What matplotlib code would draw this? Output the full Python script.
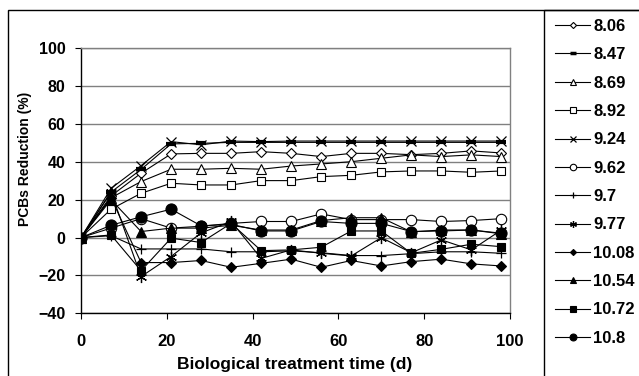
import matplotlib
matplotlib.use("Agg")
import matplotlib.pyplot as plt
from matplotlib.patches import Rectangle
from matplotlib.lines import Line2D

plt.rcParams['font.family'] = ['Liberation Sans', 'DejaVu Sans']
plt.rcParams['font.weight'] = 'bold'

days = [0, 7, 14, 21, 28, 35, 42, 49, 56, 63, 70, 77, 84, 91, 98]
labels = ['8.06', '8.47', '8.69', '8.92', '9.24', '9.62', '9.7', '9.77',
          '10.08', '10.54', '10.72', '10.8']

s806 = [0, 22, 34, 44.2, 44.5, 44.5, 45.4, 44.5, 42.8, 44.5, 44.5, 43.8, 44.5, 45.8, 44.7]
s847 = [0, 24, 36, 49.5, 49.8, 50.3, 50.3, 50.3, 50.3, 50.3, 50.3, 50.3, 50.3, 50.3, 50.3]
s869 = [0, 21, 29.6, 36.1, 36.1, 36.6, 36.1, 37.8, 38.9, 40.1, 41.9, 43.7, 42.8, 43.7, 42.8]
s892 = [0, 15, 23.4, 28.7, 27.8, 27.8, 30.1, 30.1, 32.2, 32.9, 34.7, 35.2, 35.2, 34.5, 35.2]
s924 = [0, 26, 38, 50.7, 49, 51, 50.7, 51, 51, 51, 51, 51, 51, 51, 51]
s962 = [0, 5, 10, 5, 6, 7.5, 8.5, 8.5, 12.5, 9.5, 9.5, 9.5, 8.5, 9, 10]
s970 = [0, 1, -6, -6, -6, -7.5, -7.5, -7, -8, -9.5, -9.5, -8.5, -7.5, -7.5, -8.3]
s977 = [0, 24, -20.6, -10, 2.5, 8.5, -11, -6.5, -8.3, -9.7, 0, -8, -1.2, -6.5, 4]
s1008 = [0, 21, -13.2, -13.2, -12.1, -15.7, -13.6, -11.4, -15.7, -12.1, -15, -12.7, -11.4, -13.9, -15]
s1054 = [0, 20, 3.2, 5, 5, 6.5, 4, 4, 9, 10.5, 10.5, 3, 4, 4, 2]
s1072 = [0, 1.4, -17.5, -0.3, -2.6, 7.5, -6.9, -6.5, -5.1, 3.5, 3.5, -8.3, -6.2, -3.5, -4.8]
s1080 = [0, 6.5, 11, 15, 6.2, 7, 3.5, 3.5, 8.5, 7.5, 7.5, 3.2, 3.5, 4, 2.3]

series = [s806, s847, s869, s892, s924, s962, s970, s977, s1008, s1054, s1072, s1080]

styles = [
    dict(marker='D', ms=5, mfc='white', mew=0.8),
    dict(marker='_', ms=7, mfc='black', mew=3),
    dict(marker='^', ms=6.5, mfc='white', mew=0.8),
    dict(marker='s', ms=6, mfc='white', mew=0.8),
    dict(marker='x', ms=6.5, mfc='none', mew=0.9),
    dict(marker='o', ms=7.5, mfc='white', mew=0.8),
    dict(marker='+', ms=7, mfc='none', mew=0.9),
    dict(marker=(6, 2, 0), ms=8, mfc='none', mew=0.9),
    dict(marker='D', ms=5, mfc='black', mew=0.8),
    dict(marker='^', ms=6.5, mfc='black', mew=0.8),
    dict(marker='s', ms=6, mfc='black', mew=0.8),
    dict(marker='o', ms=8, mfc='black', mew=0.8),
]

fig = plt.figure(figsize=(6.39, 3.76), dpi=100)
ax = fig.add_axes([81/639, 1-313.3/376, (510-81)/639, (313.3-48.3)/376])

handles = []
for y, st, lab in zip(series, styles, labels):
    ax.plot(days, y, color='black', lw=0.8, mec='black', label=lab, **st)
    st2 = dict(st)
    st2['ms'] = st['ms'] * 0.62
    if st['marker'] == '_':
        st2['mew'] = 2.5
    handles.append(Line2D([], [], color='black', lw=0.8, mec='black', label=lab, **st2))

ax.set_xlim(0, 100)
ax.set_ylim(-40, 100)
ax.set_xticks(range(0, 101, 20))
ax.set_yticks(range(-40, 101, 20))
ax.yaxis.grid(True, color='#808080', lw=1.0)
ax.set_axisbelow(True)
for s in ['top', 'right']:
    ax.spines[s].set_color('#808080')
    ax.spines[s].set_linewidth(1.0)
for s in ['left', 'bottom']:
    ax.spines[s].set_color('black')
    ax.spines[s].set_linewidth(1.0)
ax.tick_params(axis='y', direction='out', length=4, width=0.8, pad=7, labelsize=11.5)
ax.tick_params(axis='x', direction='out', length=4, width=0.8, pad=11, labelsize=12)
for t in ax.get_xticklabels() + ax.get_yticklabels():
    t.set_fontweight('bold')

fig.text(295/639, 1-365/376, 'Biological treatment time (d)', ha='center', va='center',
         fontsize=12.5, fontweight='bold')
fig.text(25/639, 1-159/376, 'PCBs Reduction (%)', rotation=90, ha='center', va='center',
         fontsize=10, fontweight='bold')

# outer chart border and legend box border
fig.patches.append(Rectangle((8/639, -0.1), 1.2, 1-10/376+0.1, transform=fig.transFigure,
                             fill=False, ec='black', lw=1.0))
fig.patches.append(Rectangle((544/639, -0.1), 1.2, 1-10/376+0.1, transform=fig.transFigure,
                             fill=False, ec='black', lw=1.0))

leg = fig.legend(handles=handles, loc='upper left', bbox_to_anchor=(555/639, 1-19/376),
                 frameon=False, prop=dict(size=12, weight='bold'),
                 handlelength=2.1, handletextpad=0.18, labelspacing=0.8,
                 borderaxespad=0, borderpad=0)

fig.savefig('out.png', dpi=100)
